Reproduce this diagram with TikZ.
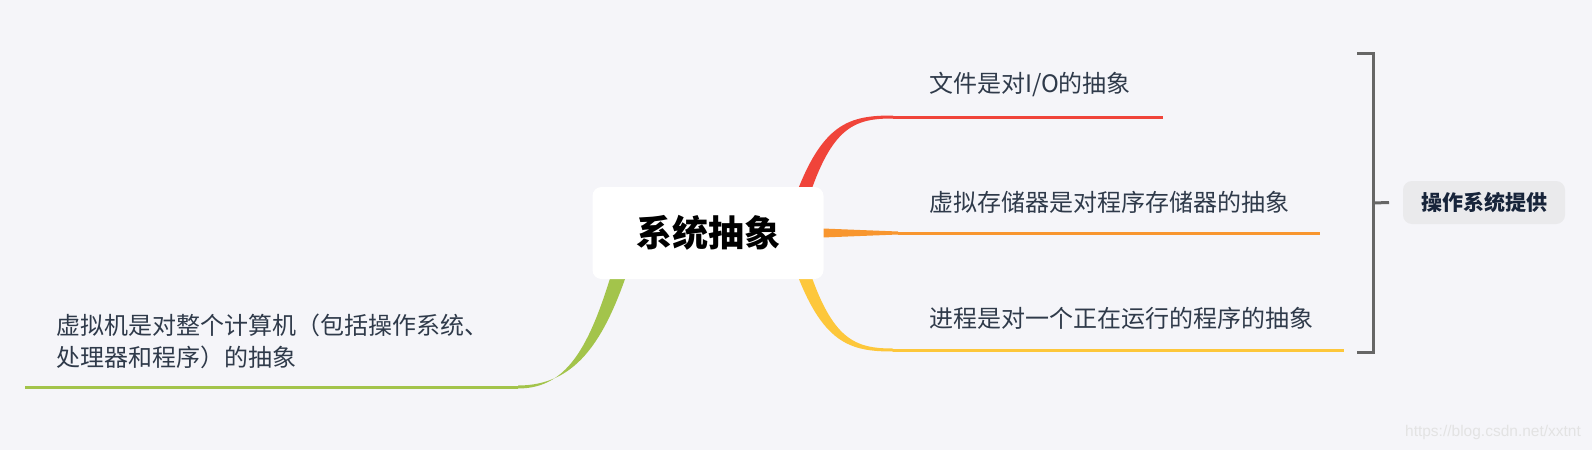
\documentclass[tikz,border=0pt]{standalone}
\usepackage{fontspec}
\setmainfont{Noto Sans CJK SC}
\newfontfamily\wmfont{Liberation Sans}
\usetikzlibrary{positioning,calc,backgrounds}
\definecolor{bgpage}{HTML}{F5F5F9}
\definecolor{branchred}{HTML}{F0443A}
\definecolor{branchorange}{HTML}{F8962F}
\definecolor{branchyellow}{HTML}{FDC73B}
\definecolor{branchgreen}{HTML}{A3C44B}
\definecolor{topictext}{HTML}{2F3A4A}
\definecolor{summarytext}{HTML}{17243A}
\definecolor{summaryfill}{HTML}{EAEAEC}
\definecolor{bracketgray}{HTML}{666666}

\begin{document}
\begin{tikzpicture}[x=1pt,y=-1pt,
    every node/.style={inner sep=0pt, outer sep=0pt},
    root/.style={fill=white, rounded corners=9pt, minimum width=231pt, minimum height=92pt,
      font=\fontsize{36}{40}\selectfont\bfseries, text=black},
    topic/.style={anchor=west, align=left, font=\fontsize{24}{32}\selectfont, text=topictext},
    summary/.style={fill=summaryfill, rounded corners=9pt, minimum width=162pt, minimum height=43pt,
      font=\fontsize{21}{24}\selectfont\bfseries, text=summarytext},
    uline/.style={line width=3pt},
    bracket/.style={draw=bracketgray, line width=3pt},
    watermark/.style={font=\wmfont\fontsize{15.5}{18}\selectfont, text=gray!22}
  ]
  \path[use as bounding box] (0,0) rectangle (1592,450);

  % central topic and its subtopics
  \node[root] (root) at (708,233) {系统抽象};
  \node[topic] (file) at (929,84)  {文件是对I/O的抽象};
  \node[topic] (vmem) at (929,202) {虚拟存储器是对程序存储器的抽象};
  \node[topic] (proc) at (929,318) {进程是对一个正在运行的程序的抽象};
  \node[topic] (vmac) at (56,341)  {虚拟机是对整个计算机（包括操作系统、\\处理器和程序）的抽象};

  \coordinate (fileend) at (893,117);
  \coordinate (vmemend) at (898,233);
  \coordinate (procend) at (893,350);
  \coordinate (vmacend) at (518,387);

  \begin{scope}[on background layer]
    \fill[bgpage] (0,0) rectangle (1592,450);
    % tapered branches, hidden under the root box at their start
    \fill[branchred] (794,200) .. controls (822,122) and (850,115.5) .. (893,115.5)
      -- (893,118.5) .. controls (855,118.5) and (832,126) .. (808,200) -- cycle;
    \fill[branchorange] (810,228) -- (898,231.5) -- (898,234.5) -- (810,238) -- cycle;
    \fill[branchyellow] (794,266) .. controls (822,344) and (850,351.5) .. (893,351.5)
      -- (893,348.5) .. controls (855,348.5) and (832,340) .. (808,266) -- cycle;
    \fill[branchgreen] (617,255) .. controls (592,342) and (570,388.5) .. (518,388.5)
      -- (518,385.5) .. controls (578,385.5) and (607,338) .. (633,255) -- cycle;
  \end{scope}

  % underlines of the subtopics
  \draw[uline, branchred]    (fileend) -- (fileend -| {$(file.east)+(32,0)$});
  \draw[uline, branchorange] (vmemend) -- (vmemend -| {$(vmem.east)+(31,0)$});
  \draw[uline, branchyellow] (procend) -- (procend -| {$(proc.east)+(31,0)$});
  \draw[uline, branchgreen]  (vmacend) -- (vmacend -| {$(vmac.west)+(-31,0)$});

  % summary bracket
  \node[summary] (sum) at (1484,202.5) {操作系统提供};
  \draw[bracket] (1357,53) -| (1373,352) -- (1357,352);
  \draw[bracket] (1373,203) -- ($(sum.west)+(-14,0)$);

  \node[watermark] (mark) at (1493,432) {https://blog.csdn.net/xxtnt};
\end{tikzpicture}
\end{document}
